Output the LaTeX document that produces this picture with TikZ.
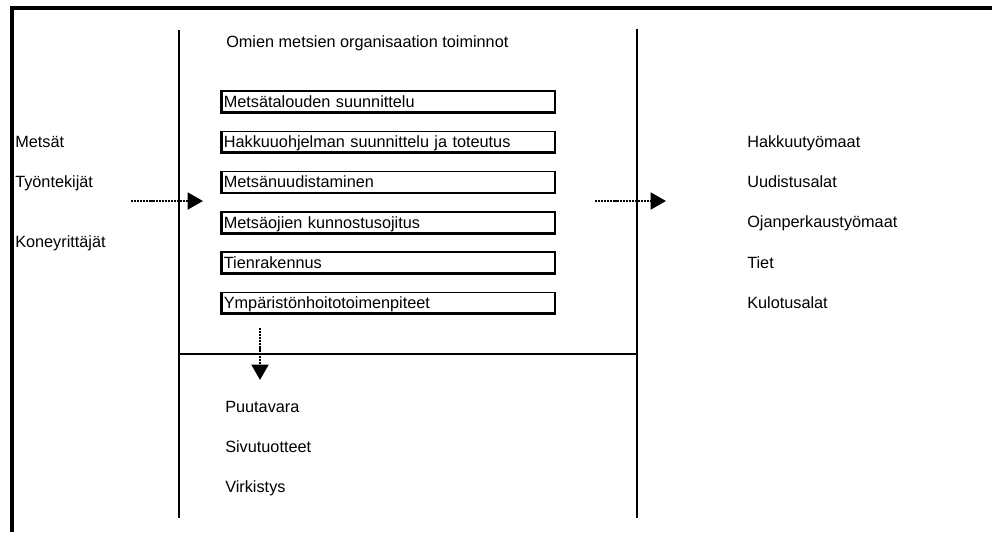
\documentclass[tikz,border=0pt]{standalone}
\usepackage{fontspec}
\setmainfont{Liberation Sans}
\usetikzlibrary{arrows.meta}

\begin{document}
\begin{tikzpicture}[x=0.75pt,y=-0.75pt] % one unit = one pixel
	\tikzset{lbl/.style={anchor=west,inner sep=0pt,text height=8.7pt,text depth=0pt,font=\fontsize{12.2}{14}\selectfont},
		task/.style={draw,line width=1.1pt,minimum height=15.5pt,text width=247pt,inner xsep=1.2pt,inner ysep=0pt,
			text height=8.7pt,text depth=0pt,align=left,font=\fontsize{12.2}{14}\selectfont},
		flow/.style={line width=2.1pt,dash pattern=on 1.6pt off 0.7pt,-{Triangle[length=11.5pt,width=12.5pt]}}}
	
	\useasboundingbox (0,0) rectangle (992,532);
	
	% Outer frame (only top and left edges are visible)
	\draw[line width=2.4pt] (12,532) -- (12,8) -- (992,8);
	
	% Organisation block
	\draw[line width=2.2pt] (179,30) -- (179,518);
	\draw[line width=2.2pt] (637,29) -- (637,518);
	\draw[line width=1.6pt] (179,354) -- (637,354);
	
	% Title
	\node[lbl] (title) at (226,42) {Omien metsien organisaation toiminnot};
	
	% Task boxes, heavier left and bottom edge
	\foreach \txt [count=\i] in {Metsätalouden suunnittelu,Hakkuuohjelman suunnittelu ja toteutus,
		Metsänuudistaminen,Metsäojien kunnostusojitus,Tienrakennus,Ympäristönhoitotoimenpiteet}
	{
		\node[task] (task\i) at (388.5,61+40.3*\i) {\txt};
		\draw[line width=1.9pt] (task\i.north west) -- (task\i.south west) -- (task\i.south east);
	}
	
	% Inputs
	\node[lbl] (in1) at (15,142) {Metsät};
	\node[lbl] (in2) at (15,182) {Työntekijät};
	\node[lbl] (in3) at (15,242) {Koneyrittäjät};
	
	% Outputs on the right
	\foreach \txt [count=\i] in {Hakkuutyömaat,Uudistusalat,Ojanperkaustyömaat,Tiet,Kulotusalat}
	{
		\node[lbl] (out\i) at (747,101+40.3*\i) {\txt};
	}
	
	% Products below
	\foreach \txt [count=\i] in {Puutavara,Sivutuotteet,Virkistys}
	{
		\node[lbl] (prod\i) at (225,367+40*\i) {\txt};
	}
	
	% Flow arrows
	\coordinate (inA) at (131,201);
	\coordinate (inB) at (203,201);
	\coordinate (outA) at (595,201);
	\coordinate (outB) at (666,201);
	\coordinate (downA) at (260,328);
	\coordinate (downB) at (260,380);
	\draw[flow] (inA) -- (inB);
	\draw[flow] (outA) -- (outB);
	\draw[flow] (downA) -- (downB);
	
\end{tikzpicture}
\end{document}
